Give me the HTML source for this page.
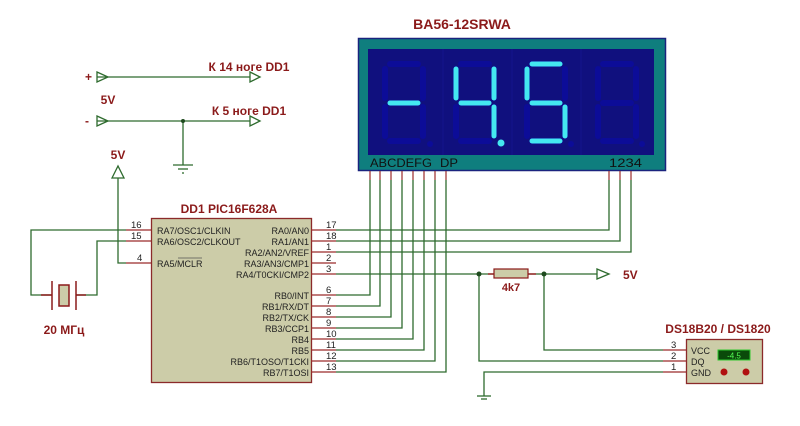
<!DOCTYPE html>
<html><head><meta charset="utf-8"><style>
html,body{margin:0;padding:0;background:#fff;width:800px;height:426px;overflow:hidden}
svg{display:block}
.t{font-family:"Liberation Sans",sans-serif;font-weight:bold;fill:#8b1a1a}
.p{font-family:"Liberation Sans",sans-serif;fill:#222;font-size:9px}
.n{font-family:"Liberation Sans",sans-serif;fill:#222;font-size:9.5px}
</style></head><body>
<svg width="800" height="426" viewBox="0 0 800 426" xmlns="http://www.w3.org/2000/svg">
<defs>
<g id="dig" stroke-linecap="round" stroke-width="6" fill="none">
<line x1="5" y1="0" x2="33" y2="0"/>
<line x1="38" y1="5" x2="38" y2="34"/>
<line x1="38" y1="43" x2="38" y2="72"/>
<line x1="5" y1="77" x2="33" y2="77"/>
<line x1="0" y1="43" x2="0" y2="72"/>
<line x1="0" y1="5" x2="0" y2="34"/>
<line x1="5" y1="39" x2="33" y2="39"/>
</g>
</defs>
<rect x="358.5" y="38.5" width="307" height="132" fill="#0f7e7e" stroke="#1a237e" stroke-width="1.5"/>
<rect x="368" y="49" width="286" height="106" fill="#10107e"/>
<g stroke="#14148c" stroke-width="1"><line x1="443" y1="49" x2="443" y2="155"/><line x1="512" y1="49" x2="512" y2="155"/><line x1="581" y1="49" x2="581" y2="155"/></g>
<g stroke="#0c0c98"><use href="#dig" x="385" y="64"/><use href="#dig" x="456" y="64"/><use href="#dig" x="527" y="64"/><use href="#dig" x="598" y="64"/></g>
<g fill="#0c0c98"><circle cx="430" cy="144" r="3"/><circle cx="571" cy="144" r="3"/><circle cx="642" cy="144" r="3"/></g>
<g stroke="#44e8f0" stroke-width="5" stroke-linecap="round" fill="none">
<line x1="390" y1="103" x2="418" y2="103"/>
<line x1="456" y1="69" x2="456" y2="98"/><line x1="461" y1="103" x2="489" y2="103"/><line x1="494" y1="69" x2="494" y2="98"/><line x1="494" y1="107" x2="494" y2="136"/>
<line x1="532" y1="64" x2="560" y2="64"/><line x1="527" y1="69" x2="527" y2="98"/><line x1="532" y1="103" x2="560" y2="103"/><line x1="565" y1="107" x2="565" y2="136"/><line x1="532" y1="141" x2="560" y2="141"/>
</g>
<circle cx="501" cy="143" r="3.5" fill="#44e8f0"/>
<text x="370" y="167" font-family="Liberation Sans,sans-serif" font-size="11.5" fill="#111" textLength="62" lengthAdjust="spacingAndGlyphs">ABCDEFG</text>
<text x="440" y="167" font-family="Liberation Sans,sans-serif" font-size="11.5" fill="#111" textLength="18" lengthAdjust="spacingAndGlyphs">DP</text>
<text x="609" y="167" font-family="Liberation Sans,sans-serif" font-size="11.5" fill="#111" textLength="33" lengthAdjust="spacingAndGlyphs">1234</text>
<text x="462" y="29" class="t" font-size="14" text-anchor="middle">BA56-12SRWA</text>
<g stroke="#9b2a2a" stroke-width="1.2">
<line x1="370" y1="171" x2="370" y2="180"/><line x1="380" y1="171" x2="380" y2="180"/><line x1="391" y1="171" x2="391" y2="180"/><line x1="402" y1="171" x2="402" y2="180"/><line x1="413" y1="171" x2="413" y2="180"/><line x1="424" y1="171" x2="424" y2="180"/><line x1="435" y1="171" x2="435" y2="180"/><line x1="446" y1="171" x2="446" y2="180"/>
<line x1="609" y1="171" x2="609" y2="180"/><line x1="620" y1="171" x2="620" y2="180"/><line x1="631" y1="171" x2="631" y2="180"/>
</g>
<g stroke="#2e6b2e" stroke-width="1.3" fill="none">
<polyline points="336,295 370,295 370,180"/><polyline points="336,306 380,306 380,180"/><polyline points="336,317 391,317 391,180"/><polyline points="336,328 402,328 402,180"/><polyline points="336,339 413,339 413,180"/><polyline points="336,350 424,350 424,180"/><polyline points="336,361 435,361 435,180"/><polyline points="336,372 446,372 446,180"/>
<polyline points="336,230 609,230 609,180"/><polyline points="336,241 620,241 620,180"/><polyline points="336,252 631,252 631,180"/>
<line x1="336" y1="274" x2="494" y2="274"/><line x1="528" y1="274" x2="597" y2="274"/>
<polyline points="544,274 544,350 663,350"/><polyline points="479,274 479,361 663,361"/><polyline points="663,372 484,372 484,396"/>
<line x1="477" y1="396" x2="491" y2="396"/><line x1="481" y1="399" x2="487" y2="399"/>
<polygon points="597,269 609,274 597,279"/>
<polyline points="126,230 31,230 31,295 52,295"/><polyline points="126,241 97,241 97,295 76,295"/><polyline points="126,263 118,263 118,178"/>
<polygon points="112,178 118,166 124,178"/>
<line x1="97" y1="77" x2="250" y2="77"/><polygon points="97,72 108,77 97,82"/><polygon points="250,72 260,77 250,82"/>
<line x1="97" y1="121" x2="250" y2="121"/><polygon points="97,116 108,121 97,126"/><polygon points="250,116 260,121 250,126"/>
<line x1="183" y1="121" x2="183" y2="165"/><line x1="173" y1="165" x2="193" y2="165"/><line x1="178" y1="169" x2="188" y2="169"/><line x1="182" y1="173" x2="184" y2="173"/>
</g>
<g fill="#1e4a1e"><circle cx="479" cy="274" r="2.5"/><circle cx="544" cy="274" r="2.5"/><circle cx="183" cy="121" r="2"/></g>
<line x1="488" y1="274" x2="494" y2="274" stroke="#9b2a2a" stroke-width="1.5"/><line x1="528" y1="274" x2="536" y2="274" stroke="#9b2a2a" stroke-width="1.5"/>
<rect x="494" y="269" width="34" height="9" fill="#cccca8" stroke="#8b1a1a" stroke-width="1.2"/>
<text x="511" y="291" class="t" font-size="11" text-anchor="middle">4k7</text>
<text x="623" y="279" class="t" font-size="12">5V</text>
<g stroke="#8b1a1a" stroke-width="1.5" fill="none">
<line x1="41" y1="295" x2="52" y2="295"/><line x1="76" y1="295" x2="86" y2="295"/>
<line x1="52" y1="281" x2="52" y2="310"/><line x1="76" y1="281" x2="76" y2="310"/>
<rect x="59" y="285" width="10" height="21" fill="#cccca8"/>
</g>
<text x="64" y="334" class="t" font-size="12" text-anchor="middle">20 МГц</text>
<text x="118" y="159" class="t" font-size="12" text-anchor="middle">5V</text>
<text x="108" y="104" class="t" font-size="12" text-anchor="middle">5V</text>
<text x="85" y="81" class="t" font-size="12">+</text><text x="85" y="125" class="t" font-size="12">-</text>
<text x="249" y="71" class="t" font-size="12" text-anchor="middle">К 14 ноге DD1</text>
<text x="249" y="115" class="t" font-size="12" text-anchor="middle">К 5 ноге DD1</text>
<text x="229" y="213" class="t" font-size="12" text-anchor="middle">DD1 PIC16F628A</text>
<rect x="151.5" y="218.5" width="160" height="164" fill="#cccca8" stroke="#8b2a2a" stroke-width="1.3"/>
<g stroke="#9b2a2a" stroke-width="1.3">
<line x1="126" y1="230" x2="151" y2="230"/><line x1="126" y1="241" x2="151" y2="241"/><line x1="126" y1="263" x2="151" y2="263"/>
<line x1="311" y1="230" x2="336" y2="230"/><line x1="311" y1="241" x2="336" y2="241"/><line x1="311" y1="252" x2="336" y2="252"/><line x1="311" y1="263" x2="336" y2="263"/><line x1="311" y1="274" x2="336" y2="274"/>
<line x1="311" y1="295" x2="336" y2="295"/><line x1="311" y1="306" x2="336" y2="306"/><line x1="311" y1="317" x2="336" y2="317"/><line x1="311" y1="328" x2="336" y2="328"/><line x1="311" y1="339" x2="336" y2="339"/><line x1="311" y1="350" x2="336" y2="350"/><line x1="311" y1="361" x2="336" y2="361"/><line x1="311" y1="372" x2="336" y2="372"/>
</g>
<g class="p">
<text x="157" y="234">RA7/OSC1/CLKIN</text><text x="157" y="245">RA6/OSC2/CLKOUT</text><text x="157" y="267">RA5/MCLR</text>
</g>
<line x1="178" y1="258" x2="202" y2="258" stroke="#555" stroke-width="0.7"/>
<g class="p" text-anchor="end">
<text x="309" y="234">RA0/AN0</text><text x="309" y="245">RA1/AN1</text><text x="309" y="256">RA2/AN2/VREF</text><text x="309" y="267">RA3/AN3/CMP1</text><text x="309" y="278">RA4/T0CKI/CMP2</text>
<text x="309" y="299">RB0/INT</text><text x="309" y="310">RB1/RX/DT</text><text x="309" y="321">RB2/TX/CK</text><text x="309" y="332">RB3/CCP1</text><text x="309" y="343">RB4</text><text x="309" y="354">RB5</text><text x="309" y="365">RB6/T1OSO/T1CKI</text><text x="309" y="376">RB7/T1OSI</text>
</g>
<g class="n">
<text x="131" y="228">16</text><text x="131" y="239">15</text><text x="137" y="261">4</text>
<text x="326" y="228">17</text><text x="326" y="239">18</text><text x="326" y="250">1</text><text x="326" y="261">2</text><text x="326" y="272">3</text>
<text x="326" y="293">6</text><text x="326" y="304">7</text><text x="326" y="315">8</text><text x="326" y="326">9</text><text x="326" y="337">10</text><text x="326" y="348">11</text><text x="326" y="359">12</text><text x="326" y="370">13</text>
<text x="671" y="348">3</text><text x="671" y="359">2</text><text x="671" y="370">1</text>
</g>
<text x="718" y="333" class="t" font-size="12" text-anchor="middle">DS18B20 / DS1820</text>
<g stroke="#9b2a2a" stroke-width="1.3"><line x1="663" y1="350" x2="686" y2="350"/><line x1="663" y1="361" x2="686" y2="361"/><line x1="663" y1="372" x2="686" y2="372"/></g>
<rect x="686.5" y="339.5" width="76" height="44" fill="#cccca8" stroke="#8b2a2a" stroke-width="1.3"/>
<g class="p"><text x="691" y="354">VCC</text><text x="691" y="365">DQ</text><text x="691" y="376">GND</text></g>
<rect x="718" y="350" width="32" height="10" fill="#0a4a0a" stroke="#2ec82e" stroke-width="1"/>
<text x="734" y="358.5" font-family="Liberation Sans,sans-serif" font-size="8" fill="#5f5" text-anchor="middle">-4.5</text>
<circle cx="724" cy="372" r="3.5" fill="#b01010"/><circle cx="746" cy="372" r="3.5" fill="#b01010"/>
</svg>
</body></html>
